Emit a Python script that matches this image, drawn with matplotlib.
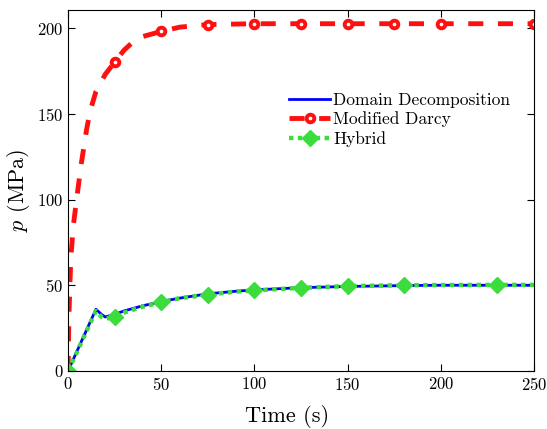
import numpy as np
import matplotlib
matplotlib.use("Agg")
import matplotlib.pyplot as plt

plt.rcParams["font.family"] = "cmr10"
plt.rcParams["mathtext.fontset"] = "cm"
plt.rcParams["axes.formatter.use_mathtext"] = True

# Domain Decomposition (blue, solid)
t_dd = [0, 5, 10, 15, 18, 20, 25, 30, 40, 50, 60, 75, 90, 100, 125, 150, 180, 200, 250]
p_dd = [0, 12, 24, 36, 33, 31.5, 33, 35, 38, 40.5, 42.5, 45, 46.5, 47.3, 48.6, 49.3, 49.8, 50, 50]

# Modified Darcy (red, dashed, open circles)
t_md = [0, 0.5, 1.5, 3, 4.5, 7, 10, 12, 15, 20, 25, 30, 35, 40, 50, 60, 75, 100, 125, 150, 175, 200, 225, 250]
p_md = [0, 32, 66, 86, 99, 120, 141, 152, 163, 173, 180, 187, 192, 195, 198, 200.5, 202, 202.5, 202.5, 202.5, 202.5, 202.5, 202.5, 202.5]
md_marks = [0, 10, 14, 16, 17, 18, 19, 20, 21, 23]

# Hybrid (green, dotted, diamonds)
t_hy = [0, 5, 10, 15, 18, 20, 25, 30, 40, 50, 60, 75, 90, 100, 125, 150, 180, 200, 230, 250]
p_hy = [0, 11.5, 23.5, 35, 31.5, 30.5, 31.5, 34, 37.5, 40, 42.5, 44.5, 46.3, 47, 48.5, 49.5, 50, 50.1, 50.2, 50.2]
hy_marks = [0, 6, 9, 11, 13, 14, 15, 16, 18]

fig = plt.figure(figsize=(5.47, 4.29), dpi=100)
ax = fig.add_axes([0.1243, 0.1352, 0.8519, 0.8415])

ax.plot(t_dd, p_dd, color="#0000ff", lw=2.0, label="Domain Decomposition")
ax.plot(t_md, p_md, color="#ff1010", lw=3.5, ls=(0, (3.1, 3.0)), marker="o", ms=5.5,
        mfc="white", mec="#ff1010", mew=2.8, markevery=md_marks, label="Modified Darcy")
ax.plot(t_hy, p_hy, color="#3ddc3d", lw=3.2, ls=(0, (1, 1)), marker="D", ms=8,
        mfc="#3ddc3d", mec="#3ddc3d", markevery=hy_marks, label="Hybrid")

ax.set_xlim(0, 250)
ax.set_ylim(0, 210.5)
ax.set_xticks([0, 50, 100, 150, 200, 250])
ax.set_yticks([0, 50, 100, 150, 200])
ax.tick_params(direction="in", top=True, right=True, length=5, labelsize=12)
ax.set_xlabel("Time (s)", fontsize=16)
ax.set_ylabel(r"$p$ (MPa)", fontsize=16)
ax.xaxis.set_label_coords(0.470, -0.095)
ax.yaxis.set_label_coords(-0.077, 0.50)

ax.legend(loc="upper left", bbox_to_anchor=(0.455, 0.795), frameon=False, fontsize=12.5,
          handlelength=2.4, handletextpad=0.15, labelspacing=0.2, borderpad=0)

fig.savefig("out.png", dpi=100)
